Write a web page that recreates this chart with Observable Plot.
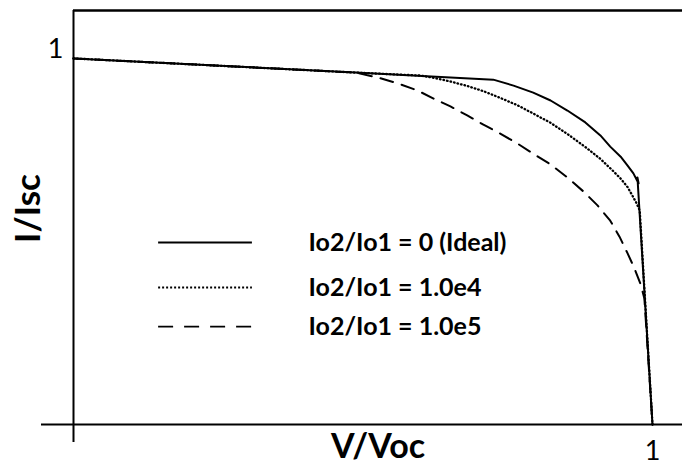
<!DOCTYPE html>
<html>
<head>
<meta charset="utf-8">
<script src="https://cdn.jsdelivr.net/npm/d3@7"></script>
<script src="https://cdn.jsdelivr.net/npm/@observablehq/plot@0.6"></script>
<style>
  html, body { margin: 0; padding: 0; background: #fff; }
  #chart { width: 682px; height: 466px; }
</style>
</head>
<body>
<div id="chart"></div>
<script>
// Ideal curve (Io2/Io1 = 0)
const vIdeal = [0, 0.487, 0.725, 0.760, 0.794, 0.824, 0.853, 0.884, 0.910, 0.927, 0.945, 0.957, 0.967, 0.976, 0.974, 1.0];
const iIdeal = [0.984, 0.946, 0.927, 0.911, 0.892, 0.871, 0.844, 0.812, 0.777, 0.747, 0.720, 0.696, 0.675, 0.648, 0.664, 0];
// Io2/Io1 = 1.0e4
const vE4 = [0, 0.487, 0.599, 0.622, 0.651, 0.680, 0.708, 0.737, 0.767, 0.794, 0.824, 0.853, 0.884, 0.910, 0.931, 0.945, 0.957, 0.965, 0.972, 0.978, 1.0];
const iE4 = [0.984, 0.946, 0.938, 0.932, 0.922, 0.910, 0.896, 0.878, 0.858, 0.836, 0.811, 0.781, 0.746, 0.714, 0.683, 0.661, 0.638, 0.616, 0.596, 0.575, 0];
// Io2/Io1 = 1.0e5
const vE5 = [0, 0.487, 0.525, 0.560, 0.594, 0.622, 0.651, 0.680, 0.708, 0.737, 0.767, 0.794, 0.824, 0.853, 0.881, 0.905, 0.927, 0.943, 0.957, 0.969, 0.979, 0.986, 1.0];
const iE5 = [0.984, 0.946, 0.933, 0.917, 0.898, 0.876, 0.855, 0.831, 0.806, 0.782, 0.755, 0.728, 0.699, 0.664, 0.626, 0.589, 0.548, 0.505, 0.460, 0.419, 0.379, 0.339, 0];

const legendLabels = ["Io2/Io1 = 0 (Ideal)", "Io2/Io1 = 1.0e4", "Io2/Io1 = 1.0e5"];
const xTicks = [1];
const yTicks = [1];
const xTitle = "V/Voc";
const yTitle = "I/Isc";

// layout (not data)
const xMax = 609 / 579, yMax = 414 / 372;
const legendY = [0.489, 0.368, 0.263];
const legX1 = 0.147, legX2 = 0.309, legTextX = 0.406;
const FONT = "Lato, 'Open Sans', sans-serif";

const toRows = (xs, ys) => xs.map((x, i) => ({x, y: ys[i]}));
const ideal = toRows(vIdeal, iIdeal);
const e4 = toRows(vE4, iE4);
const e5 = toRows(vE5, iE5);

const chart = Plot.plot({
  width: 682,
  height: 466,
  marginLeft: 73,
  marginRight: 0,
  marginTop: 10,
  marginBottom: 42,
  x: {domain: [0, xMax], axis: null},
  y: {domain: [0, yMax], axis: null},
  style: {fontFamily: FONT, color: "black", background: "white", overflow: "visible"},
  marks: [
    // frame lines
    Plot.ruleX([0], {y1: -18 / 372, y2: yMax, stroke: "black", strokeWidth: 2}),
    Plot.ruleY([0], {x1: -32 / 579, x2: xMax, stroke: "black", strokeWidth: 2}),
    Plot.ruleY([yMax], {x1: 0, x2: xMax, stroke: "black", strokeWidth: 2.5}),
    // tick labels
    Plot.text(xTicks, {x: d => d, frameAnchor: "bottom", lineAnchor: "middle", dy: 27, text: d => String(d), fontSize: 27, fill: "black"}),
    Plot.text(yTicks, {y: d => d, frameAnchor: "left", textAnchor: "middle", dx: -18, dy: -3, text: d => String(d), fontSize: 27, fill: "black"}),
    // curves
    Plot.line(e5, {x: "x", y: "y", stroke: "black", strokeWidth: 2, strokeDasharray: "13,9"}),
    Plot.line(e4, {x: "x", y: "y", stroke: "black", strokeWidth: 2.3, strokeDasharray: "0.6,3", strokeLinecap: "round"}),
    Plot.line(ideal, {x: "x", y: "y", stroke: "black", strokeWidth: 2}),
    // legend samples
    Plot.ruleY([legendY[0]], {x1: legX1, x2: legX2, stroke: "black", strokeWidth: 2}),
    Plot.ruleY([legendY[1]], {x1: legX1, x2: legX2, stroke: "black", strokeWidth: 2, strokeDasharray: "2,2"}),
    Plot.ruleY([legendY[2]], {x1: legX1, x2: legX2, stroke: "black", strokeWidth: 1.8, strokeDasharray: "15,11"}),
    Plot.text(legendLabels, {x: legTextX, y: (d, i) => legendY[i], text: d => d, textAnchor: "start", fontSize: 25, fontWeight: "bold", fill: "black"}),
    // axis titles
    Plot.text([xTitle], {frameAnchor: "bottom", lineAnchor: "middle", dy: 23, fontSize: 34, fontWeight: "bold", fill: "black"}),
    Plot.text([yTitle], {frameAnchor: "left", textAnchor: "middle", lineAnchor: "middle", dx: -45, dy: -9, rotate: -90, fontSize: 35, fontWeight: "bold", fill: "black"})
  ]
});
document.getElementById("chart").appendChild(chart);
</script>
</body>
</html>
